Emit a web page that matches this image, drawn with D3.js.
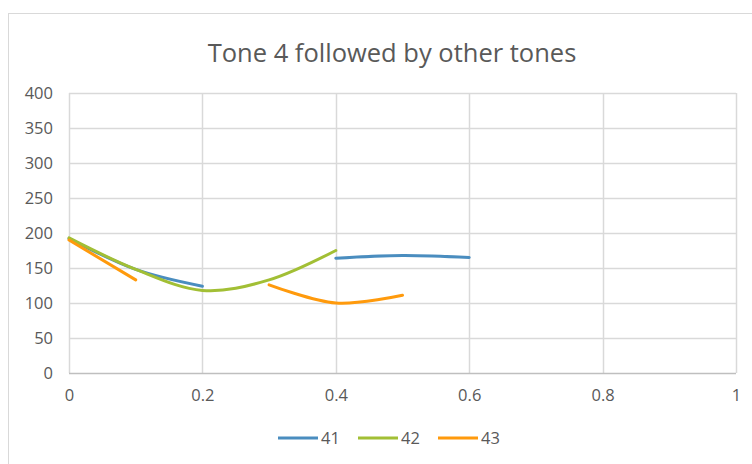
<!DOCTYPE html>
<html>
<meta charset="utf-8">
<style>
  body { margin: 0; background: #fff; }
  text { font-family: "Open Sans", sans-serif; fill: #595959; }
  .title { font-size: 25.5px; }
  .tick text { font-size: 16.5px; }
  .legend text { font-size: 16.5px; }
</style>
<script src="https://d3js.org/d3.v7.min.js"></script>
<body>
<script>
var width = 752, height = 464;

// data (null = gap)
var xValues = [0, 0.1, 0.2, 0.3, 0.4, 0.5, 0.6];
var s41 = [192, 148, 124, null, 164, 168, 165];
var s42 = [193, 148, 118, 133, 175, null, null];
var s43 = [190, 133, null, 126, 100, 111, null];
var seriesNames = ["41", "42", "43"];
var colors = ["#4a8dbf", "#a2bf35", "#ff9a0c"];
var xTicks = [0, 0.2, 0.4, 0.6, 0.8, 1];
var yTicks = [0, 50, 100, 150, 200, 250, 300, 350, 400];

var series = [s41, s42, s43];

var svg = d3.select("body").append("svg")
  .attr("width", width)
  .attr("height", height);

// chart frame
svg.append("rect")
  .attr("x", 8.5).attr("y", 13.5)
  .attr("width", 760).attr("height", 470)
  .attr("fill", "none")
  .attr("stroke", "#d9d9d9");

var x = d3.scaleLinear().domain([0, 1]).range([69, 736]);
var y = d3.scaleLinear().domain([0, 400]).range([373, 93]);

// grid
svg.append("g").selectAll("line.h")
  .data(yTicks.slice(1))
  .enter().append("line")
  .attr("x1", x(0)).attr("x2", x(1))
  .attr("y1", function(d){ return Math.round(y(d)) + 0.5; })
  .attr("y2", function(d){ return Math.round(y(d)) + 0.5; })
  .attr("stroke", "#d9d9d9").attr("stroke-width", 1.5);

svg.append("g").selectAll("line.v")
  .data(xTicks)
  .enter().append("line")
  .attr("y1", y(0)).attr("y2", y(400))
  .attr("x1", function(d){ return Math.round(x(d)) + 0.5; })
  .attr("x2", function(d){ return Math.round(x(d)) + 0.5; })
  .attr("stroke", "#d9d9d9").attr("stroke-width", 1.5);

// bottom axis line
svg.append("line")
  .attr("x1", x(0)).attr("x2", x(1))
  .attr("y1", Math.round(y(0)) + 0.5).attr("y2", Math.round(y(0)) + 0.5)
  .attr("stroke", "#bfbfbf").attr("stroke-width", 1.5);

// axes labels
var xAxis = d3.axisBottom(x).tickValues(xTicks).tickSize(0).tickPadding(16)
  .tickFormat(function(d){ return d; });
svg.append("g").attr("transform", "translate(0," + y(0) + ")")
  .call(xAxis)
  .call(function(g){ g.select(".domain").remove(); });

var yAxis = d3.axisLeft(y).tickValues(yTicks).tickSize(0).tickPadding(16);
svg.append("g").attr("transform", "translate(" + x(0) + ",0)")
  .call(yAxis)
  .call(function(g){ g.select(".domain").remove(); });

svg.selectAll(".tick text").attr("fill", "#595959");

// title
svg.append("text").attr("class", "title")
  .attr("x", 392).attr("y", 62)
  .attr("text-anchor", "middle")
  .text("Tone 4 followed by other tones");

// lines
var line = d3.line()
  .defined(function(d){ return d[1] != null; })
  .x(function(d){ return x(d[0]); })
  .y(function(d){ return y(d[1]); })
  .curve(d3.curveCatmullRom.alpha(0));

series.forEach(function(s, i){
  var pts = xValues.map(function(v, j){ return [v, s[j]]; });
  svg.append("path")
    .attr("d", line(pts))
    .attr("fill", "none")
    .attr("stroke", colors[i])
    .attr("stroke-width", 3)
    .attr("stroke-linecap", "round");
});

// legend
var legend = svg.append("g").attr("class", "legend");
var legX = [278, 358, 438];
seriesNames.forEach(function(n, i){
  legend.append("line")
    .attr("x1", legX[i]).attr("x2", legX[i] + 40)
    .attr("y1", 438).attr("y2", 438)
    .attr("stroke", colors[i]).attr("stroke-width", 3);
  legend.append("text")
    .attr("x", legX[i] + 43).attr("y", 444)
    .text(n);
});
</script>
</body>
</html>
